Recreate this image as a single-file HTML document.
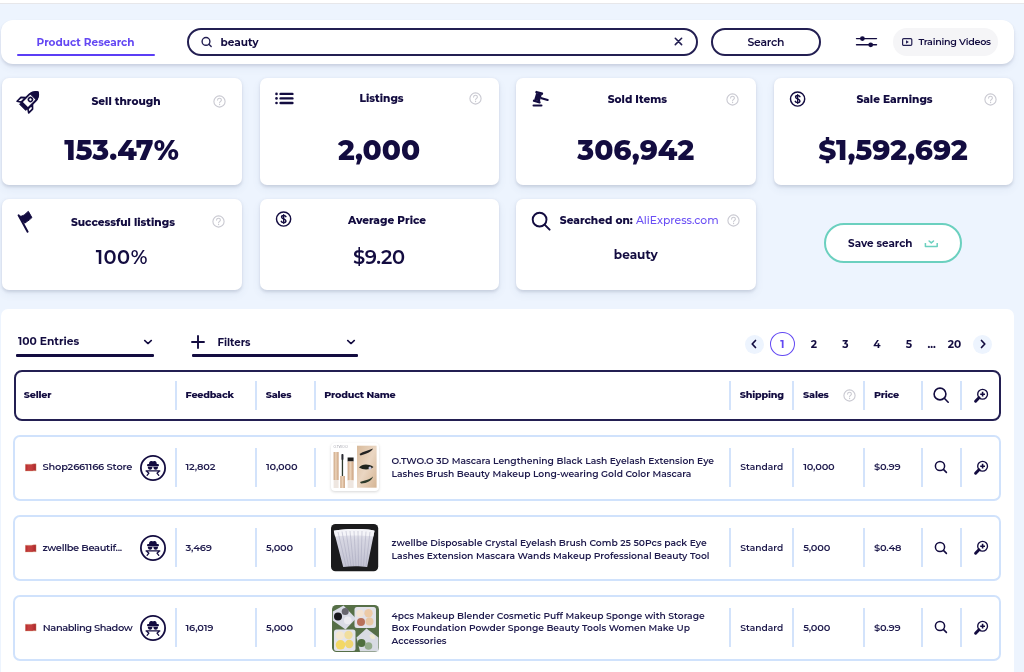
<!DOCTYPE html>
<html><head><meta charset="utf-8">
<style>
*{box-sizing:border-box;margin:0;padding:0}
html,body{width:1024px;height:672px;overflow:hidden}
body{background:#edf4fe;font-family:"Montserrat","Liberation Sans",sans-serif;color:#130c40;position:relative}
.a{position:absolute}
.t{position:absolute;white-space:nowrap;line-height:20px;height:20px}
.c{text-align:center}
.card{position:absolute;background:#fff;border-radius:7px;box-shadow:0 1.5px 3px rgba(60,70,100,.16),0 4px 10px rgba(60,80,130,.07)}
.ttl{font-size:10.55px;font-weight:800}
.big{font-size:28px;font-weight:800;letter-spacing:0}
.help{position:absolute;width:11px;height:11px;border:1px solid #cfcfd4;border-radius:50%;color:#c4c4ca;font-size:8px;line-height:9px;text-align:center;font-weight:500}
.sep{position:absolute;width:2px;background:#d3e3fb}
.hd{font-size:9.6px;font-weight:800;letter-spacing:-0.22px}
.rw{font-size:9.8px;font-weight:600;color:#1f1b4d;letter-spacing:-0.18px}
.row{position:absolute;left:13.2px;width:987.5px;height:66px;border:2px solid #d0e2fc;border-radius:7px;background:#fff}
</style></head>
<body>
<!-- top strip -->
<div class="a" style="left:0;top:0;width:1024px;height:3px;background:#fff"></div><div class="a" style="left:0;top:3px;width:1024px;height:1.2px;background:#e7e7ea"></div>

<!-- nav card -->
<div class="a" style="left:1px;top:20px;width:1013px;height:44px;background:#fff;border-radius:12px;box-shadow:0 2px 3px rgba(60,70,100,.15),0 5px 10px -2px rgba(60,80,130,.08)"></div>
<div class="t" style="left:36.6px;top:33.2px;font-size:10.5px;font-weight:700;color:#6448f3">Product Research</div>
<div class="a" style="left:17px;top:53.8px;width:138px;height:2px;border-radius:1px;background:#5b3ef5"></div>

<!-- search input -->
<div class="a" style="left:187px;top:27.5px;width:511px;height:28px;border:2px solid #231f52;border-radius:14px"></div>
<svg class="a" style="left:199px;top:35px" width="14" height="14" viewBox="0 0 14 14"><circle cx="7" cy="6.4" r="3.9" fill="none" stroke="#231f52" stroke-width="1.4"/><line x1="9.9" y1="9.3" x2="12.2" y2="11.6" stroke="#231f52" stroke-width="1.4" stroke-linecap="round"/></svg>
<div class="t" style="left:220.5px;top:32.7px;font-size:10.55px;font-weight:700">beauty</div>
<svg class="a" style="left:674px;top:37.4px" width="9" height="9" viewBox="0 0 9 9"><path d="M1.3 1.3L7.6 7.6M7.6 1.3L1.3 7.6" stroke="#231f52" stroke-width="1.6" stroke-linecap="round"/></svg>

<!-- search button -->
<div class="a" style="left:711px;top:27.5px;width:110px;height:28px;border:2px solid #231f52;border-radius:14px"></div>
<div class="t c" style="left:711px;top:32.2px;width:110px;font-size:10.85px;font-weight:650;letter-spacing:-0.22px;text-indent:-0.22px">Search</div>

<!-- sliders icon -->
<svg class="a" style="left:855px;top:34px" width="23" height="15" viewBox="0 0 23 15"><line x1="1.5" y1="4.6" x2="21.5" y2="4.6" stroke="#130c40" stroke-width="1.4" stroke-linecap="round"/><line x1="1.5" y1="10.8" x2="21.5" y2="10.8" stroke="#130c40" stroke-width="1.4" stroke-linecap="round"/><circle cx="7.4" cy="4.6" r="2.4" fill="#130c40"/><circle cx="15.7" cy="10.8" r="2.4" fill="#130c40"/></svg>

<!-- training videos -->
<div class="a" style="left:893px;top:27.5px;width:105px;height:28.5px;border-radius:14px;background:#f5f5f7"></div>
<svg class="a" style="left:902px;top:38px" width="10.5" height="8" viewBox="0 0 10.5 8"><rect x="0.6" y="0.6" width="9.2" height="6.8" rx="1.1" fill="none" stroke="#231f52" stroke-width="1.2"/><path d="M4 2.2L6.9 4L4 5.8Z" fill="#231f52"/></svg>
<div class="t" style="left:918.4px;top:31.6px;font-size:9.55px;font-weight:650;letter-spacing:-0.25px">Training Videos</div>

<!-- ===== stat cards row 1 ===== -->
<div class="card" style="left:2px;top:77.5px;width:240px;height:107.4px"></div>
<div class="card" style="left:259.5px;top:77.5px;width:239px;height:107.4px"></div>
<div class="card" style="left:516px;top:77.5px;width:239.5px;height:107.4px"></div>
<div class="card" style="left:773.5px;top:77.5px;width:239px;height:107.4px"></div>

<!-- ===== stat cards row 2 ===== -->
<div class="card" style="left:2px;top:198.6px;width:240px;height:91px"></div>
<div class="card" style="left:259.5px;top:198.6px;width:239px;height:91px"></div>
<div class="card" style="left:516px;top:198.6px;width:239.5px;height:91px"></div>

<!-- save search -->
<div class="a" style="left:824px;top:223.3px;width:138px;height:39.7px;border:2px solid #6bd0bf;border-radius:20px;background:#fff"></div>


<!-- card 1 -->
<svg class="a" style="left:16.4px;top:86.5px" width="28" height="28" viewBox="-14 -13 28 28"><g transform="rotate(45)" stroke="#130c40" stroke-linejoin="round">
<path d="M-4.6,1.2 L-8.2,4.6 L-8.2,10 L-4.6,7.6Z" fill="#fff" stroke-width="1.7"/>
<path d="M4.6,1.2 L8.2,4.6 L8.2,10 L4.6,7.6Z" fill="#fff" stroke-width="1.7"/>
<path d="M-4.5,7.5 L-4.5,-3.5 C-4.5,-6.5 -2.5,-9.5 0,-11.2 C2.5,-9.5 4.5,-6.5 4.5,-3.5 L4.5,7.5Z" fill="#fff" stroke-width="1.9"/>
<path d="M-4.5,-4.6 C-4.2,-7 -2.5,-9.5 0,-11.2 C2.5,-9.5 4.2,-7 4.5,-4.6Z" fill="#130c40" stroke-width="1"/>
<circle cx="0" cy="-0.6" r="2" fill="#fff" stroke-width="1.6"/>
<rect x="-4.4" y="7" width="8.8" height="3.4" fill="#130c40" stroke-width="0.8"/>
</g></svg>
<div class="t c ttl" style="left:39px;top:91.70px;width:174px">Sell through</div>
<svg class="a" style="left:212.50px;top:94.80px" width="13" height="13" viewBox="-6.5 -6.5 13 13"><circle r="5.6" fill="none" stroke="#c9c9d1" stroke-width="1.1"/><path d="M-1.9,-1.4 C-1.9,-2.7 -1,-3.3 0,-3.3 C1.1,-3.3 1.9,-2.6 1.9,-1.6 C1.9,-0.3 0.1,-0.1 0.1,1.3" fill="none" stroke="#c9c9d1" stroke-width="1.05" stroke-linecap="round"/><circle cx="0.1" cy="3" r="0.65" fill="#c9c9d1"/></svg>
<div class="t c big" style="left:2px;top:140.3px;width:239px">153.47%</div>

<!-- card 2 -->
<svg class="a" style="left:274px;top:91px" width="21" height="14" viewBox="0 0 21 14"><g fill="#130c40"><circle cx="2.5" cy="2.9" r="1.3"/><circle cx="2.5" cy="7.4" r="1.3"/><circle cx="2.5" cy="12" r="1.3"/></g><g stroke="#130c40" stroke-width="2.4" stroke-linecap="round"><line x1="6.6" y1="2.9" x2="18.4" y2="2.9"/><line x1="6.6" y1="7.4" x2="18.4" y2="7.4"/><line x1="6.6" y1="12" x2="18.4" y2="12"/></g></svg>
<div class="t c ttl" style="left:293.2px;top:89.3px;width:176.7px">Listings</div>
<svg class="a" style="left:469.40px;top:92.00px" width="13" height="13" viewBox="-6.5 -6.5 13 13"><circle r="5.6" fill="none" stroke="#c9c9d1" stroke-width="1.1"/><path d="M-1.9,-1.4 C-1.9,-2.7 -1,-3.3 0,-3.3 C1.1,-3.3 1.9,-2.6 1.9,-1.6 C1.9,-0.3 0.1,-0.1 0.1,1.3" fill="none" stroke="#c9c9d1" stroke-width="1.05" stroke-linecap="round"/><circle cx="0.1" cy="3" r="0.65" fill="#c9c9d1"/></svg>
<div class="t c big" style="left:259.5px;top:140.3px;width:239px">2,000</div>

<!-- card 3 -->
<svg class="a" style="left:530px;top:88px" width="22" height="20" viewBox="0 0 22 20"><g transform="translate(8,9.2) rotate(16) scale(0.86)" fill="#130c40"><rect x="-4.6" y="-6.6" width="9.2" height="2.8" rx="1"/><rect x="-3.4" y="-4.2" width="6.8" height="8.4"/><rect x="-4.6" y="3.8" width="9.2" height="2.8" rx="1"/><rect x="3" y="-1.3" width="10" height="2.6" rx="1.3"/></g><rect x="2.5" y="16.4" width="10" height="2.2" rx="1.1" fill="#130c40"/></svg>
<div class="t c ttl" style="left:548px;top:90.1px;width:178.8px">Sold Items</div>
<svg class="a" style="left:726.40px;top:92.50px" width="13" height="13" viewBox="-6.5 -6.5 13 13"><circle r="5.6" fill="none" stroke="#c9c9d1" stroke-width="1.1"/><path d="M-1.9,-1.4 C-1.9,-2.7 -1,-3.3 0,-3.3 C1.1,-3.3 1.9,-2.6 1.9,-1.6 C1.9,-0.3 0.1,-0.1 0.1,1.3" fill="none" stroke="#c9c9d1" stroke-width="1.05" stroke-linecap="round"/><circle cx="0.1" cy="3" r="0.65" fill="#c9c9d1"/></svg>
<div class="t c big" style="left:516px;top:140.3px;width:239.5px">306,942</div>

<!-- card 4 -->
<svg class="a" style="left:788.5px;top:90px" width="18" height="18" viewBox="0 0 18 18"><circle cx="8.6" cy="9" r="7.1" fill="none" stroke="#130c40" stroke-width="1.45"/><path d="M10.9,6.6 C10.5,5.8 9.7,5.5 8.7,5.5 C7.4,5.5 6.6,6.2 6.6,7.1 C6.6,9.5 10.9,8.6 10.9,11 C10.9,12 9.9,12.6 8.6,12.6 C7.5,12.6 6.7,12.1 6.3,11.3" fill="none" stroke="#130c40" stroke-width="1.5" stroke-linecap="round"/><path d="M8.65,4.7 V13.3" stroke="#130c40" stroke-width="1.3" stroke-linecap="round"/></svg>
<div class="t c ttl" style="left:805px;top:90.2px;width:179px">Sale Earnings</div>
<svg class="a" style="left:983.50px;top:92.50px" width="13" height="13" viewBox="-6.5 -6.5 13 13"><circle r="5.6" fill="none" stroke="#c9c9d1" stroke-width="1.1"/><path d="M-1.9,-1.4 C-1.9,-2.7 -1,-3.3 0,-3.3 C1.1,-3.3 1.9,-2.6 1.9,-1.6 C1.9,-0.3 0.1,-0.1 0.1,1.3" fill="none" stroke="#c9c9d1" stroke-width="1.05" stroke-linecap="round"/><circle cx="0.1" cy="3" r="0.65" fill="#c9c9d1"/></svg>
<div class="t c big" style="left:773.5px;top:140.3px;width:239px">$1,592,692</div>

<!-- card 5 -->
<svg class="a" style="left:16px;top:209px" width="18" height="25" viewBox="0 0 18 25"><path d="M2.6,6.3 L11.6,22.7" stroke="#130c40" stroke-width="2" stroke-linecap="round"/><path d="M3.4,7.2 C6,7.6 8.5,6 10.2,4.2 C11,3.3 11.8,2.6 12.4,2.4 L15.9,8.6 C14.5,10 12.6,11.6 8.6,14.2Z" fill="#130c40" stroke="#130c40" stroke-width="1" stroke-linejoin="round"/></svg>
<div class="t c ttl" style="left:32.5px;top:213.0px;width:181px">Successful listings</div>
<svg class="a" style="left:212.30px;top:215.30px" width="13" height="13" viewBox="-6.5 -6.5 13 13"><circle r="5.6" fill="none" stroke="#c9c9d1" stroke-width="1.1"/><path d="M-1.9,-1.4 C-1.9,-2.7 -1,-3.3 0,-3.3 C1.1,-3.3 1.9,-2.6 1.9,-1.6 C1.9,-0.3 0.1,-0.1 0.1,1.3" fill="none" stroke="#c9c9d1" stroke-width="1.05" stroke-linecap="round"/><circle cx="0.1" cy="3" r="0.65" fill="#c9c9d1"/></svg>
<div class="t c" style="left:2px;top:246.6px;width:239px;font-size:19.4px;font-weight:650;letter-spacing:0.5px;text-indent:0.5px">100%</div>

<!-- card 6 -->
<svg class="a" style="left:274.5px;top:210.2px" width="18" height="18" viewBox="0 0 18 18"><circle cx="8.6" cy="9" r="7.1" fill="none" stroke="#130c40" stroke-width="1.45"/><path d="M10.9,6.6 C10.5,5.8 9.7,5.5 8.7,5.5 C7.4,5.5 6.6,6.2 6.6,7.1 C6.6,9.5 10.9,8.6 10.9,11 C10.9,12 9.9,12.6 8.6,12.6 C7.5,12.6 6.7,12.1 6.3,11.3" fill="none" stroke="#130c40" stroke-width="1.5" stroke-linecap="round"/><path d="M8.65,4.7 V13.3" stroke="#130c40" stroke-width="1.3" stroke-linecap="round"/></svg>
<div class="t c ttl" style="left:292px;top:210.6px;width:190px">Average Price</div>
<div class="t c" style="left:259.5px;top:246.6px;width:239px;font-size:19.4px;font-weight:650;letter-spacing:-0.25px;text-indent:-0.25px">$9.20</div>

<!-- card 7 -->
<svg class="a" style="left:530px;top:209.5px" width="22" height="22" viewBox="0 0 22 22"><circle cx="9.6" cy="9.6" r="6.9" fill="none" stroke="#130c40" stroke-width="1.9"/><line x1="14.6" y1="14.6" x2="19.6" y2="19.6" stroke="#130c40" stroke-width="2" stroke-linecap="round"/></svg>
<div class="t c ttl" style="left:550.6px;top:211.40px;width:177.3px"><span>Searched on: </span><span style="font-weight:500;font-size:10.8px;color:#6a4ff5">AliExpress.com</span></div>
<svg class="a" style="left:726.90px;top:214.00px" width="13" height="13" viewBox="-6.5 -6.5 13 13"><circle r="5.6" fill="none" stroke="#c9c9d1" stroke-width="1.1"/><path d="M-1.9,-1.4 C-1.9,-2.7 -1,-3.3 0,-3.3 C1.1,-3.3 1.9,-2.6 1.9,-1.6 C1.9,-0.3 0.1,-0.1 0.1,1.3" fill="none" stroke="#c9c9d1" stroke-width="1.05" stroke-linecap="round"/><circle cx="0.1" cy="3" r="0.65" fill="#c9c9d1"/></svg>
<div class="t c" style="left:516px;top:245.3px;width:239.5px;font-size:12.1px;font-weight:700">beauty</div>

<!-- save search content -->
<div class="t" style="left:848px;top:234.4px;font-size:10.4px;font-weight:700">Save search</div>
<svg class="a" style="left:922.5px;top:237.5px" width="16" height="11" viewBox="0 0 16 11"><path d="M2.4,5 L2.4,8.4 L14.2,8.4 L14.2,5" fill="none" stroke="#6bd0bf" stroke-width="1.5" stroke-linejoin="round"/><path d="M6.1,3 L8.3,4.9 L10.5,3" fill="none" stroke="#6bd0bf" stroke-width="1.5" stroke-linecap="round" stroke-linejoin="round"/></svg>

<!-- ===== table card ===== -->
<div class="a" style="left:1px;top:308.7px;width:1013px;height:400px;background:#fff;border-radius:7px"></div>


<!-- controls -->
<div class="t" style="left:18px;top:332.0px;font-size:10.7px;font-weight:700">100 Entries</div>
<svg class="a" style="left:142.4px;top:337.6px" width="12" height="8" viewBox="0 0 12 8"><path d="M2.6,2.4 L6,5.6 L9.4,2.4" fill="none" stroke="#130c40" stroke-width="1.45" stroke-linecap="round" stroke-linejoin="round"/></svg>
<div class="a" style="left:16px;top:354.3px;width:138px;height:2.4px;border-radius:1.1px;background:#130c40"></div>
<svg class="a" style="left:191px;top:335px" width="14" height="14" viewBox="0 0 14 14"><path d="M7,1 V13 M1,7 H13" stroke="#130c40" stroke-width="1.9" stroke-linecap="round"/></svg>
<div class="t" style="left:217.4px;top:333.0px;font-size:10.2px;font-weight:700">Filters</div>
<svg class="a" style="left:345.2px;top:337.6px" width="12" height="8" viewBox="0 0 12 8"><path d="M2.6,2.4 L6,5.6 L9.4,2.4" fill="none" stroke="#130c40" stroke-width="1.45" stroke-linecap="round" stroke-linejoin="round"/></svg>
<div class="a" style="left:192px;top:354.3px;width:165.5px;height:2.4px;border-radius:1.1px;background:#130c40"></div>

<!-- pagination -->
<div class="a" style="left:744.6px;top:335.40px;width:19px;height:19px;border-radius:50%;background:#edf4fe"></div>
<svg class="a" style="left:749.3px;top:339.2px" width="10" height="10" viewBox="0 0 10 10"><path d="M6.5,1.5 L3.2,5 L6.5,8.5" fill="none" stroke="#130c40" stroke-width="1.7" stroke-linecap="round" stroke-linejoin="round"/></svg>
<div class="a" style="left:770.2px;top:332.1px;width:24.8px;height:24.4px;border-radius:50%;border:1.7px solid #6349f3"></div>
<div class="t c" style="left:770px;top:334.90px;width:24.6px;font-size:10.6px;font-weight:700;color:#6349f3">1</div>
<div class="t c" style="left:804px;top:334.90px;width:20px;font-size:10.6px;font-weight:700">2</div>
<div class="t c" style="left:835.3px;top:334.90px;width:20px;font-size:10.6px;font-weight:700">3</div>
<div class="t c" style="left:867px;top:334.90px;width:20px;font-size:10.6px;font-weight:700">4</div>
<div class="t c" style="left:898.8px;top:334.90px;width:20px;font-size:10.6px;font-weight:700">5</div>
<div class="t c" style="left:921.6px;top:334.90px;width:20px;font-size:10.6px;font-weight:700">...</div>
<div class="t c" style="left:944.5px;top:334.90px;width:20px;font-size:10.6px;font-weight:700">20</div>
<div class="a" style="left:973.4px;top:335.40px;width:19px;height:19px;border-radius:50%;background:#edf4fe"></div>
<svg class="a" style="left:978px;top:339.2px" width="10" height="10" viewBox="0 0 10 10"><path d="M3.5,1.5 L6.8,5 L3.5,8.5" fill="none" stroke="#130c40" stroke-width="1.7" stroke-linecap="round" stroke-linejoin="round"/></svg>

<!-- header box -->
<div class="a" style="left:13.5px;top:370px;width:987.5px;height:51px;border:2px solid #231f52;border-radius:8px"></div>
<div class="sep" style="left:175.0px;top:381px;height:28.5px"></div>
<div class="sep" style="left:255.3px;top:381px;height:28.5px"></div>
<div class="sep" style="left:313.8px;top:381px;height:28.5px"></div>
<div class="sep" style="left:729.3px;top:381px;height:28.5px"></div>
<div class="sep" style="left:792.2px;top:381px;height:28.5px"></div>
<div class="sep" style="left:863.0px;top:381px;height:28.5px"></div>
<div class="sep" style="left:920.6px;top:381px;height:28.5px"></div>
<div class="sep" style="left:960.0px;top:381px;height:28.5px"></div>
<div class="t hd" style="left:23.8px;top:384.7px">Seller</div>
<div class="t hd" style="left:185.6px;top:384.7px">Feedback</div>
<div class="t hd" style="left:265.7px;top:384.7px">Sales</div>
<div class="t hd" style="left:324.3px;top:384.7px">Product Name</div>
<div class="t hd" style="left:739.8px;top:384.7px">Shipping</div>
<div class="t hd" style="left:803.1px;top:384.7px">Sales</div>
<div class="t hd" style="left:874.0px;top:384.7px">Price</div>
<svg class="a" style="left:842.90px;top:388.80px" width="13" height="13" viewBox="-6.5 -6.5 13 13"><circle r="5.6" fill="none" stroke="#c9c9d1" stroke-width="1.1"/><path d="M-1.9,-1.4 C-1.9,-2.7 -1,-3.3 0,-3.3 C1.1,-3.3 1.9,-2.6 1.9,-1.6 C1.9,-0.3 0.1,-0.1 0.1,1.3" fill="none" stroke="#c9c9d1" stroke-width="1.05" stroke-linecap="round"/><circle cx="0.1" cy="3" r="0.65" fill="#c9c9d1"/></svg>
<svg class="a" style="left:931px;top:385.3px" width="20" height="20" viewBox="0 0 20 20"><circle cx="9" cy="9" r="5.9" fill="none" stroke="#130c40" stroke-width="1.6"/><line x1="13.3" y1="13.3" x2="17.2" y2="17.2" stroke="#130c40" stroke-width="1.6" stroke-linecap="round"/></svg>
<svg class="a" style="left:971.7px;top:387px" width="18" height="18" viewBox="0 0 18 18"><circle cx="10.6" cy="7.2" r="4.9" fill="#fff" stroke="#130c40" stroke-width="1.35"/><path d="M10.6,4.8 V9.6 M8.2,7.2 H13" stroke="#130c40" stroke-width="1.6"/><line x1="7" y1="10.8" x2="3.6" y2="14.2" stroke="#130c40" stroke-width="3" stroke-linecap="round"/></svg>

<div class="row" style="top:434.5px"></div>
<div class="sep" style="left:175.0px;top:447.5px;height:39px"></div>
<div class="sep" style="left:255.3px;top:447.5px;height:39px"></div>
<div class="sep" style="left:313.8px;top:447.5px;height:39px"></div>
<div class="sep" style="left:729.3px;top:447.5px;height:39px"></div>
<div class="sep" style="left:792.2px;top:447.5px;height:39px"></div>
<div class="sep" style="left:863.0px;top:447.5px;height:39px"></div>
<div class="sep" style="left:920.6px;top:447.5px;height:39px"></div>
<div class="sep" style="left:960.0px;top:447.5px;height:39px"></div>
<svg class="a" style="left:25px;top:462.9px" width="12" height="9" viewBox="0 0 12 9"><defs><linearGradient id="fl" x1="0" x2="1"><stop offset="0" stop-color="#b8262c"/><stop offset=".3" stop-color="#c4413f"/><stop offset=".6" stop-color="#c23c3c"/><stop offset="1" stop-color="#a9252a"/></linearGradient></defs><path d="M0.3,1.2 C2.5,1 6,1.4 7.8,0.9 C9,0.6 10.2,0.7 11.1,0.8 L11.1,7.9 C10,7.8 8.8,7.8 7.6,8 C6,8.3 2.5,7.9 0.3,8.1Z" fill="url(#fl)" stroke="#d9b68a" stroke-width="0.35"/></svg>
<div class="t rw" style="left:42.5px;top:457.00px">Shop2661166 Store</div>
<svg class="a" style="left:139px;top:453.5px" width="28" height="28" viewBox="0 0 28 28"><circle cx="14" cy="14" r="12.1" fill="none" stroke="#130c40" stroke-width="1.8"/><g fill="#130c40"><path d="M10,10.6 C10,8.2 10.6,6.9 12.2,6.9 C13,6.9 13.3,7.3 13.9,7.3 C14.5,7.3 14.8,6.9 15.6,6.9 C17.2,6.9 17.8,8.2 17.8,10.6Z"/><rect x="8" y="10.1" width="12" height="2.3" rx="1.15"/><path d="M8.8,13.1 H13.4 C13.4,14.8 12.5,15.7 11.1,15.7 C9.7,15.7 8.8,14.8 8.8,13.1Z M14.4,13.1 H19 C19,14.8 18.1,15.7 16.7,15.7 C15.3,15.7 14.4,14.8 14.4,13.1Z"/></g><path d="M7.1,16.9 H20.8 M7.7,17.2 L9.9,19.2 L8.1,21.3 M20.2,17.2 L18,19.2 L19.8,21.3" fill="none" stroke="#130c40" stroke-width="1.3" stroke-linejoin="round" stroke-linecap="round"/></svg>
<div class="t rw" style="font-size:9.85px;left:185.5px;top:456.00px">12,802</div>
<div class="t rw" style="font-size:9.85px;left:266px;top:456.00px">10,000</div>
<div class="a" style="left:331.4px;top:443.3px;width:47.5px;height:47.7px;border-radius:4px;background:#fff;box-shadow:0 1px 3px rgba(0,0,0,.16)"></div>
<svg class="a" style="left:331.4px;top:443.3px" width="48" height="48" viewBox="0 0 48 48">
<text x="2.6" y="5.4" font-family="Montserrat" font-size="3.2" fill="#8a8a96">O.TWO.O</text>
<defs><linearGradient id="gd" x1="0" x2="1"><stop offset="0" stop-color="#caa27f"/><stop offset=".45" stop-color="#ecd4bb"/><stop offset="1" stop-color="#c99f7c"/></linearGradient>
<linearGradient id="sk" x1="0" y1="0" x2="1" y2="1"><stop offset="0" stop-color="#d9bb9c"/><stop offset=".5" stop-color="#ead6c2"/><stop offset="1" stop-color="#d5b594"/></linearGradient></defs>
<rect x="2.6" y="9" width="5" height="28" fill="url(#gd)"/><rect x="2.6" y="37" width="5" height="8" fill="#eee6e0"/>
<rect x="10.8" y="11.5" width="1.3" height="22" fill="#2e3a2c"/><rect x="10.5" y="11" width="1.9" height="6" rx=".8" fill="#2a2a34"/>
<rect x="9.3" y="33" width="4.6" height="12" fill="url(#gd)"/>
<rect x="16.6" y="14.5" width="6" height="4" fill="#1d1d1d"/><rect x="16.6" y="18.5" width="6" height="19" fill="url(#gd)"/><rect x="16.6" y="37.5" width="6" height="7.5" fill="#eee6e0"/>
<rect x="26" y="2.7" width="19.6" height="42" fill="url(#sk)"/>
<path d="M28.5,11 C32,8.5 38,7.5 42,5.5 C41,8.5 36,10.5 29.5,12.5Z" fill="#222"/>
<path d="M28,24.5 C31,21 37,20.5 42.5,24 C38,27.5 32,27 28,24.5Z" fill="#1f241e"/><circle cx="39" cy="25" r="1.5" fill="#c9c9e0"/>
<path d="M29,39 C33,37.5 38,37 42,33.5 C41,37.5 36,40.5 30,40.5Z" fill="#2d3a2a"/>
</svg>
<div class="a rw" style="font-size:9.15px;font-weight:650;letter-spacing:0;left:391.5px;top:455.2px;line-height:12.5px;white-space:nowrap">O.TWO.O 3D Mascara Lengthening Black Lash Eyelash Extension Eye<br>Lashes Brush Beauty Makeup Long-wearing Gold Color Mascara</div>
<div class="t" style="left:740.3px;top:457.00px;font-size:9.1px;font-weight:600;color:#1f1b4d">Standard</div>
<div class="t rw" style="font-size:9.85px;left:803.2px;top:456.00px">10,000</div>
<div class="t rw" style="font-size:9.85px;left:874px;top:456.00px">$0.99</div>
<svg class="a" style="left:933.0px;top:458.80px" width="16" height="16" viewBox="0 0 16 16"><circle cx="7" cy="7" r="4.6" fill="none" stroke="#130c40" stroke-width="1.5"/><line x1="10.4" y1="10.4" x2="13.4" y2="13.4" stroke="#130c40" stroke-width="1.6" stroke-linecap="round"/></svg>
<svg class="a" style="left:971.6px;top:458.5px" width="18" height="18" viewBox="0 0 18 18"><circle cx="10.6" cy="7.2" r="4.9" fill="#fff" stroke="#130c40" stroke-width="1.35"/><path d="M10.6,4.8 V9.6 M8.2,7.2 H13" stroke="#130c40" stroke-width="1.6"/><line x1="7" y1="10.8" x2="3.6" y2="14.2" stroke="#130c40" stroke-width="3" stroke-linecap="round"/></svg>

<div class="row" style="top:514.5px"></div>
<div class="sep" style="left:175.0px;top:527.5px;height:39px"></div>
<div class="sep" style="left:255.3px;top:527.5px;height:39px"></div>
<div class="sep" style="left:313.8px;top:527.5px;height:39px"></div>
<div class="sep" style="left:729.3px;top:527.5px;height:39px"></div>
<div class="sep" style="left:792.2px;top:527.5px;height:39px"></div>
<div class="sep" style="left:863.0px;top:527.5px;height:39px"></div>
<div class="sep" style="left:920.6px;top:527.5px;height:39px"></div>
<div class="sep" style="left:960.0px;top:527.5px;height:39px"></div>
<svg class="a" style="left:25px;top:543.60px" width="12" height="9" viewBox="0 0 12 9"><defs><linearGradient id="fl" x1="0" x2="1"><stop offset="0" stop-color="#b8262c"/><stop offset=".3" stop-color="#c4413f"/><stop offset=".6" stop-color="#c23c3c"/><stop offset="1" stop-color="#a9252a"/></linearGradient></defs><path d="M0.3,1.2 C2.5,1 6,1.4 7.8,0.9 C9,0.6 10.2,0.7 11.1,0.8 L11.1,7.9 C10,7.8 8.8,7.8 7.6,8 C6,8.3 2.5,7.9 0.3,8.1Z" fill="url(#fl)" stroke="#d9b68a" stroke-width="0.35"/></svg>
<div class="t rw" style="left:42.5px;top:537.70px;letter-spacing:-0.31px">zwellbe Beautif...</div>
<svg class="a" style="left:139px;top:534.20px" width="28" height="28" viewBox="0 0 28 28"><circle cx="14" cy="14" r="12.1" fill="none" stroke="#130c40" stroke-width="1.8"/><g fill="#130c40"><path d="M10,10.6 C10,8.2 10.6,6.9 12.2,6.9 C13,6.9 13.3,7.3 13.9,7.3 C14.5,7.3 14.8,6.9 15.6,6.9 C17.2,6.9 17.8,8.2 17.8,10.6Z"/><rect x="8" y="10.1" width="12" height="2.3" rx="1.15"/><path d="M8.8,13.1 H13.4 C13.4,14.8 12.5,15.7 11.1,15.7 C9.7,15.7 8.8,14.8 8.8,13.1Z M14.4,13.1 H19 C19,14.8 18.1,15.7 16.7,15.7 C15.3,15.7 14.4,14.8 14.4,13.1Z"/></g><path d="M7.1,16.9 H20.8 M7.7,17.2 L9.9,19.2 L8.1,21.3 M20.2,17.2 L18,19.2 L19.8,21.3" fill="none" stroke="#130c40" stroke-width="1.3" stroke-linejoin="round" stroke-linecap="round"/></svg>
<div class="t rw" style="font-size:9.85px;left:185.5px;top:536.70px">3,469</div>
<div class="t rw" style="font-size:9.85px;left:266px;top:536.70px">5,000</div>
<svg class="a" style="left:331.4px;top:524.40px" width="48" height="48" viewBox="0 0 48 48">
<defs><linearGradient id="br" x1="0" y1="0" x2="0" y2="1"><stop offset="0" stop-color="#f0f0f6"/><stop offset=".3" stop-color="#d6d6e2"/><stop offset="1" stop-color="#c2c2d2"/></linearGradient></defs>
<rect x="0" y="0" width="47.2" height="47.2" rx="4.5" fill="#1b1b1d"/>
<path d="M2.8,6.8 C10,5.2 20,4.6 30,5 C35,5.2 39.5,5.8 43.5,6.8 L36.2,43 C30,42.2 20,42 12.2,43Z" fill="url(#br)"/><path d="M2.8,6.8 C10,5.2 20,4.6 30,5 C35,5.2 39.5,5.8 43.5,6.8 L42.4,12.5 C34,11.2 14,11.2 4,12.5Z" fill="#f4f4f8"/>
<g stroke="#9d9db4" stroke-width=".5" opacity=".8"><path d="M7,8 L15,42 M11,7.5 L17.5,42 M15,7 L20,42 M19,7 L22.5,42 M23,7 L25,42 M27,7 L27.5,42 M31,7 L30,42 M35,7.5 L32.5,42 M39,8 L35,42"/></g>
</svg>
<div class="a rw" style="font-size:9.2px;font-weight:650;letter-spacing:0;left:391.6px;top:537.00px;line-height:12.5px;white-space:nowrap">zwellbe Disposable Crystal Eyelash Brush Comb 25 50Pcs pack Eye<br>Lashes Extension Mascara Wands Makeup Professional Beauty Tool</div>
<div class="t" style="left:740.3px;top:537.70px;font-size:9.1px;font-weight:600;color:#1f1b4d">Standard</div>
<div class="t rw" style="font-size:9.85px;left:803.2px;top:536.70px">5,000</div>
<div class="t rw" style="font-size:9.85px;left:874px;top:536.70px">$0.48</div>
<svg class="a" style="left:933.0px;top:539.50px" width="16" height="16" viewBox="0 0 16 16"><circle cx="7" cy="7" r="4.6" fill="none" stroke="#130c40" stroke-width="1.5"/><line x1="10.4" y1="10.4" x2="13.4" y2="13.4" stroke="#130c40" stroke-width="1.6" stroke-linecap="round"/></svg>
<svg class="a" style="left:971.6px;top:539.20px" width="18" height="18" viewBox="0 0 18 18"><circle cx="10.6" cy="7.2" r="4.9" fill="#fff" stroke="#130c40" stroke-width="1.35"/><path d="M10.6,4.8 V9.6 M8.2,7.2 H13" stroke="#130c40" stroke-width="1.6"/><line x1="7" y1="10.8" x2="3.6" y2="14.2" stroke="#130c40" stroke-width="3" stroke-linecap="round"/></svg>

<div class="row" style="top:595px"></div>
<div class="sep" style="left:175.0px;top:608.0px;height:39px"></div>
<div class="sep" style="left:255.3px;top:608.0px;height:39px"></div>
<div class="sep" style="left:313.8px;top:608.0px;height:39px"></div>
<div class="sep" style="left:729.3px;top:608.0px;height:39px"></div>
<div class="sep" style="left:792.2px;top:608.0px;height:39px"></div>
<div class="sep" style="left:863.0px;top:608.0px;height:39px"></div>
<div class="sep" style="left:920.6px;top:608.0px;height:39px"></div>
<div class="sep" style="left:960.0px;top:608.0px;height:39px"></div>
<svg class="a" style="left:25px;top:623.4px" width="12" height="9" viewBox="0 0 12 9"><defs><linearGradient id="fl" x1="0" x2="1"><stop offset="0" stop-color="#b8262c"/><stop offset=".3" stop-color="#c4413f"/><stop offset=".6" stop-color="#c23c3c"/><stop offset="1" stop-color="#a9252a"/></linearGradient></defs><path d="M0.3,1.2 C2.5,1 6,1.4 7.8,0.9 C9,0.6 10.2,0.7 11.1,0.8 L11.1,7.9 C10,7.8 8.8,7.8 7.6,8 C6,8.3 2.5,7.9 0.3,8.1Z" fill="url(#fl)" stroke="#d9b68a" stroke-width="0.35"/></svg>
<div class="t rw" style="left:42.8px;top:617.50px;letter-spacing:-0.4px">Nanabling Shadow</div>
<svg class="a" style="left:139px;top:614.0px" width="28" height="28" viewBox="0 0 28 28"><circle cx="14" cy="14" r="12.1" fill="none" stroke="#130c40" stroke-width="1.8"/><g fill="#130c40"><path d="M10,10.6 C10,8.2 10.6,6.9 12.2,6.9 C13,6.9 13.3,7.3 13.9,7.3 C14.5,7.3 14.8,6.9 15.6,6.9 C17.2,6.9 17.8,8.2 17.8,10.6Z"/><rect x="8" y="10.1" width="12" height="2.3" rx="1.15"/><path d="M8.8,13.1 H13.4 C13.4,14.8 12.5,15.7 11.1,15.7 C9.7,15.7 8.8,14.8 8.8,13.1Z M14.4,13.1 H19 C19,14.8 18.1,15.7 16.7,15.7 C15.3,15.7 14.4,14.8 14.4,13.1Z"/></g><path d="M7.1,16.9 H20.8 M7.7,17.2 L9.9,19.2 L8.1,21.3 M20.2,17.2 L18,19.2 L19.8,21.3" fill="none" stroke="#130c40" stroke-width="1.3" stroke-linejoin="round" stroke-linecap="round"/></svg>
<div class="t rw" style="font-size:9.85px;left:185.5px;top:616.50px">16,019</div>
<div class="t rw" style="font-size:9.85px;left:266px;top:616.50px">5,000</div>
<svg class="a" style="left:331.5px;top:604.5px" width="48" height="48" viewBox="0 0 48 48">
<rect x="0" y="0" width="47" height="47" rx="4.5" fill="#566f47"/>
<path d="M0.8,6.5 L11.5,0.6 L24,13.5 L13.5,24.5 L0.8,15.5Z" fill="#d9dbe6"/>
<circle cx="6" cy="11.5" r="4" fill="#17171d"/><circle cx="13.2" cy="6.6" r="3.5" fill="#67666f"/><circle cx="15.8" cy="15.4" r="3.8" fill="#ececf2"/>
<rect x="22.5" y="2" width="21.5" height="21" rx="2.5" fill="#e2e1e8"/>
<circle cx="28" cy="8.5" r="3.8" fill="#f2e3d2"/><circle cx="36.5" cy="8.3" r="4.2" fill="#eccaa6"/><circle cx="29" cy="17" r="4" fill="#b8705a"/><circle cx="37.5" cy="16.5" r="4" fill="#e7c8a5"/>
<rect x="2" y="24.5" width="21.5" height="21.5" rx="2.5" fill="#e4e4ec"/>
<circle cx="8" cy="30.5" r="4.2" fill="#f4e8d0"/><circle cx="16.5" cy="30" r="4.2" fill="#f1de9e"/><circle cx="8.5" cy="39.8" r="4.8" fill="#f3d865"/><circle cx="17.2" cy="39" r="4.2" fill="#efd673"/>
<path d="M24.5,32.5 L34.5,23.5 L46.5,32.5 L46.5,46.5 L28,46.5Z" fill="#d8dbe3"/>
<circle cx="29.5" cy="38" r="4" fill="#4f6f3d"/><circle cx="36.5" cy="41" r="3.8" fill="#93ab8a"/><path d="M37.5,30 C40.5,28 44,30 43,33.5 C41,35.5 37.5,33.5 37.5,30Z" fill="#efe9cf"/>
</svg>
<div class="a rw" style="font-size:9.15px;font-weight:650;letter-spacing:0;left:391.5px;top:609.5px;line-height:12.5px;white-space:nowrap">4pcs Makeup Blender Cosmetic Puff Makeup Sponge with Storage<br>Box Foundation Powder Sponge Beauty Tools Women Make Up<br>Accessories</div>
<div class="t" style="left:740.3px;top:617.50px;font-size:9.1px;font-weight:600;color:#1f1b4d">Standard</div>
<div class="t rw" style="font-size:9.85px;left:803.2px;top:616.50px">5,000</div>
<div class="t rw" style="font-size:9.85px;left:874px;top:616.50px">$0.99</div>
<svg class="a" style="left:933.0px;top:619.30px" width="16" height="16" viewBox="0 0 16 16"><circle cx="7" cy="7" r="4.6" fill="none" stroke="#130c40" stroke-width="1.5"/><line x1="10.4" y1="10.4" x2="13.4" y2="13.4" stroke="#130c40" stroke-width="1.6" stroke-linecap="round"/></svg>
<svg class="a" style="left:971.6px;top:619.0px" width="18" height="18" viewBox="0 0 18 18"><circle cx="10.6" cy="7.2" r="4.9" fill="#fff" stroke="#130c40" stroke-width="1.35"/><path d="M10.6,4.8 V9.6 M8.2,7.2 H13" stroke="#130c40" stroke-width="1.6"/><line x1="7" y1="10.8" x2="3.6" y2="14.2" stroke="#130c40" stroke-width="3" stroke-linecap="round"/></svg>
</body></html>
